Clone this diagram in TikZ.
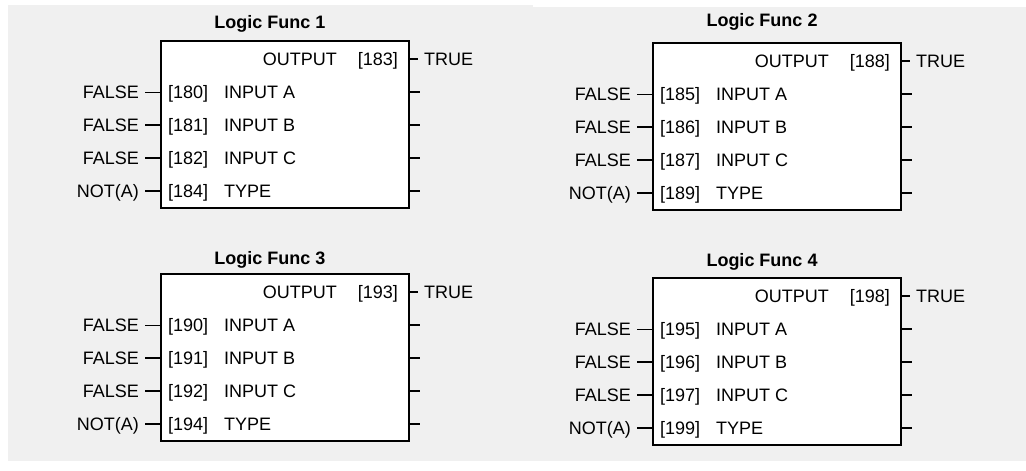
\documentclass[tikz,border=0pt]{standalone}
\usepackage{fontspec}
\setmainfont{Liberation Sans}
\usetikzlibrary{calc}
\definecolor{bggray}{RGB}{240,240,240}
\tikzset{
  lfbox/.style={draw=black, fill=white, line width=2pt, inner sep=0pt},
  lbl/.style={inner sep=0pt, font=\fontsize{18}{20}\selectfont},
  ttl/.style={inner sep=0pt, font=\fontsize{18}{20}\selectfont\bfseries},
  stub/.style={line width=2.7pt},
  thinstub/.style={line width=1pt},
}
\newcommand{\LFrow}[8]{%
  \coordinate (#1r#2) at (#3, #4);
  \node[lbl, anchor=base west] (#1n#2) at (#3+8, #4+6.4) {[#5]};
  \node[lbl, anchor=base west] (#1p#2) at (#3+64, #4+6.4) {#6};
  \node[lbl, anchor=base east] (#1v#2) at (#3-21, #4+6.4) {#7};
  \coordinate (#1ls#2) at (#3-15, #4);
  \draw[#8] (#1ls#2) -- (#1box.west |- #1r#2);
  \coordinate (#1rs#2) at (#3+260, #4);
  \draw[stub] (#1box.east |- #1r#2) -- (#1rs#2);
}
\newcommand{\LFblock}[6]{%
  \node[lfbox, minimum width=248pt, minimum height=167pt, anchor=north west] (#1box) at (#2,#3) {};
  \node[ttl, anchor=base] (#1t) at (#2+110, #4+6.4) {Logic Func #5};
  \coordinate (#1r0) at (#2, #3+19);
  \node[lbl, anchor=base east] (#1outl) at (#2+177, #3+19+6.4) {OUTPUT};
  \node[lbl, anchor=base east] (#1outn) at (#2+238, #3+19+6.4) {[\the\numexpr#6+3\relax]};
  \node[lbl, anchor=base west] (#1true) at (#2+264, #3+19+6.4) {TRUE};
  \coordinate (#1oe) at (#2+258, #3+19);
  \draw[stub] (#1box.east |- #1r0) -- (#1oe);
  \LFrow{#1}{1}{#2}{#3+52}{#6}{INPUT A}{FALSE}{thinstub}
  \LFrow{#1}{2}{#2}{#3+85}{\the\numexpr#6+1\relax}{INPUT B}{FALSE}{stub}
  \LFrow{#1}{3}{#2}{#3+118}{\the\numexpr#6+2\relax}{INPUT C}{FALSE}{stub}
  \LFrow{#1}{4}{#2}{#3+151}{\the\numexpr#6+4\relax}{TYPE}{NOT(A)}{stub}
}
\begin{document}
\begin{tikzpicture}[x=1pt,y=-1pt]
  \useasboundingbox (0,0) rectangle (1026,471);
  \fill[bggray] (8,5) rectangle (533,461);
  \fill[bggray] (533,7) rectangle (1026,461);
  \LFblock{a}{160}{40}{22}{1}{180}
  \LFblock{b}{652}{42}{20}{2}{185}
  \LFblock{c}{160}{273}{258}{3}{190}
  \LFblock{d}{652}{277}{260}{4}{195}
\end{tikzpicture}
\end{document}
